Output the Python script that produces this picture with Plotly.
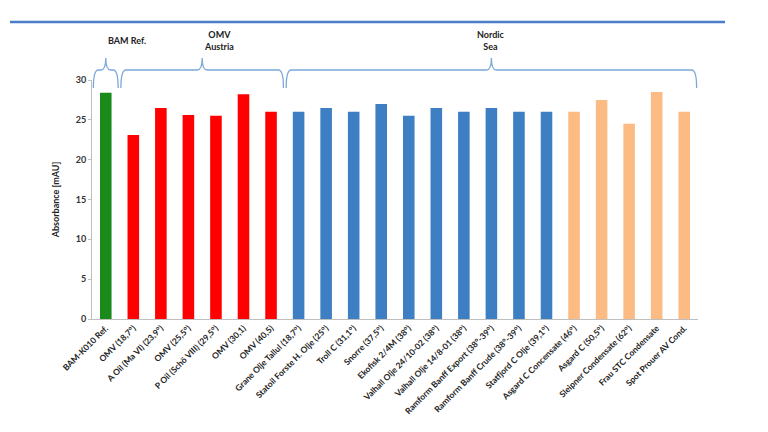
import plotly.graph_objects as go

categories = [
    "BAM-K010 Ref.", "OMV (18,7°)", "A Oil (Ma VI) (23,9°)", "OMV (25,5°)",
    "P Oil (Schö VIII) (29,5°)", "OMV (30,1)", "OMV (40,5)",
    "Grane Olje Tallul (18,7°)", "Statoil Forste H. Olje (25°)", "Troll C (31,1°)",
    "Snorre (37,5°)", "Ekofisk 2/4M (38°)", "Valhall Olje 24/10-02 (38°)",
    "Valhall Olje 14/8-01 (38°)", "Ramform Banff Export (38°-39°)",
    "Ramform Banff Crude (38°-39°)", "Statfjord C Olje (39,1°)",
    "Asgard C Concensate (46°)", "Asgard C (50,5°)", "Sleipner Condensate (62°)",
    "Frau STC Condensate", "Spot Prouer AV Cond.",
]
values = [28.4, 23.1, 26.5, 25.6, 25.5, 28.2, 26.0,
          26.0, 26.5, 26.0, 27.0, 25.5, 26.5, 26.0, 26.5, 26.0, 26.0,
          26.0, 27.5, 24.5, 28.5, 26.0]
color_groups = ["green"] + ["red"] * 6 + ["blue"] * 10 + ["orange"] * 5
palette = {"green": "#1A8A1A", "red": "#FF0000", "blue": "#3E7EC2", "orange": "#FDBB84"}

group_names = ["BAM Ref.", "OMV<br>Austria", "Nordic<br>Sea"]
group_start = [0, 1, 7]
group_end = [0, 6, 21]

fig = go.Figure(go.Bar(
    x=categories, y=values,
    marker=dict(color=[palette[c] for c in color_groups], line=dict(width=0)),
    width=0.42,
))

n = len(categories)
L, R, T, B = 92, 70, 80, 113
W, H = 768, 432
pw, ph = W - L - R, H - T - B

def px_x(px):
    return px / pw

def px_y(py):
    return py / ph

shapes = []
annotations = []
for name, s, e in zip(group_names, group_start, group_end):
    x0 = (s + 0.05) / n
    x1 = (e + 0.95) / n
    xc = (x0 + x1) / 2
    r = px_x(5)
    ymid = 1 + px_y(10)
    ytip = 1 + px_y(22)
    yend = 1 - px_y(8)
    path = (f"M {x0},{yend} Q {x0},{ymid} {x0 + r},{ymid} L {xc - r},{ymid} "
            f"Q {xc},{ymid} {xc},{ytip} Q {xc},{ymid} {xc + r},{ymid} "
            f"L {x1 - r},{ymid} Q {x1},{ymid} {x1},{yend}")
    shapes.append(dict(type="path", xref="paper", yref="paper", path=path,
                       line=dict(color="#7AA8DA", width=1.3)))
    annotations.append(dict(x=xc, y=1 + px_y(40), xref="paper", yref="paper",
                            text=name, showarrow=False, yanchor="middle",
                            font=dict(family="Lato", size=9, color="#222222", weight="bold")))

# header rule line
shapes.append(dict(type="line", xref="paper", yref="paper",
                   x0=px_x(10 - L), x1=px_x(725 - L), y0=1 + px_y(T - 22), y1=1 + px_y(T - 22),
                   line=dict(color="#4A7EC8", width=2.5)))

fig.update_layout(
    width=W, height=H,
    margin=dict(l=L, r=R, t=T, b=B, autoexpand=False),
    paper_bgcolor="white", plot_bgcolor="white",
    showlegend=False,
    shapes=shapes, annotations=annotations,
    xaxis=dict(
        type="category", tickangle=-45,
        tickfont=dict(family="Lato", size=8.5, color="#222222", weight="bold"),
        showline=True, linecolor="#BFBFBF", linewidth=1,
        ticks="", showgrid=False, range=[-0.5, n - 0.5],
    ),
    yaxis=dict(
        range=[0, 30], tickvals=[0, 5, 10, 15, 20, 25, 30],
        tickfont=dict(family="Lato", size=9, color="#333333", weight="bold"),
        showline=True, linecolor="#BFBFBF", linewidth=1,
        ticks="outside", ticklen=3, tickcolor="#BFBFBF",
        showgrid=False, zeroline=False,
        title=dict(text="Absorbance [mAU]", standoff=14,
                   font=dict(family="Lato", size=9, color="#222222", weight="bold")),
    ),
)

fig.write_html("out.html")
